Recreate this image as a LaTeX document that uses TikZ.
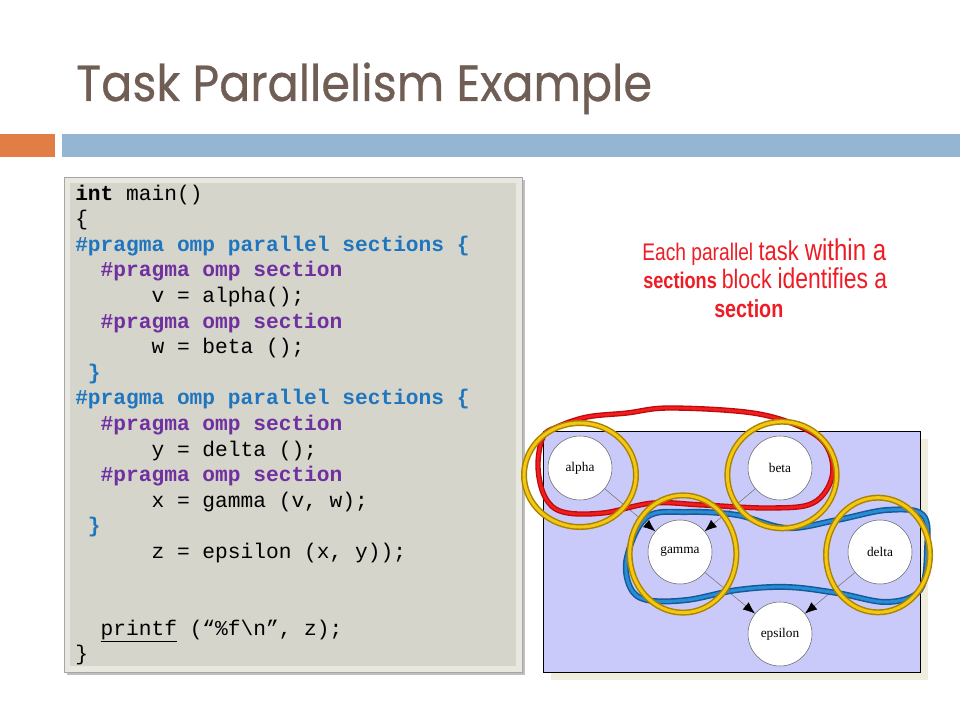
\documentclass[tikz,border=0pt]{standalone}
\usepackage{fontspec}
\setmainfont{Liberation Serif}
\setsansfont{Liberation Sans}
\setmonofont{Liberation Mono}
\newfontfamily\titlefont{Poppins}[FakeBold=0.6]
\usetikzlibrary{arrows.meta,positioning}
\definecolor{titlebrown}{RGB}{112,94,84}
\definecolor{barorange}{RGB}{224,126,70}
\definecolor{barblue}{RGB}{148,182,210}
\definecolor{codebg}{RGB}{213,213,203}
\definecolor{codeframe}{RGB}{232,232,225}
\definecolor{ompblue}{RGB}{31,118,190}
\definecolor{omppurple}{RGB}{112,48,160}
\definecolor{notered}{RGB}{238,28,36}
\definecolor{graphbg}{RGB}{202,202,250}
\definecolor{shadowbeige}{RGB}{240,236,222}
\definecolor{reddark}{RGB}{190,10,10}
\definecolor{redlight}{RGB}{240,30,30}
\definecolor{bluedark}{RGB}{20,90,150}
\definecolor{bluelight}{RGB}{40,140,215}
\definecolor{golddark}{RGB}{170,130,0}
\definecolor{goldlight}{RGB}{242,200,20}
\newcommand\parsec[1]{\textcolor{ompblue}{\textbf{#1}}}
\newcommand\onesec[1]{\textcolor{omppurple}{\textbf{#1}}}
\newcommand\narrow[1]{\scalebox{0.8}[1]{#1}}
\begin{document}
\begin{tikzpicture}[x=0.75pt,y=-0.75pt,node distance=150pt,
  task/.style={draw=black!60, fill=white, circle, minimum size=48pt, inner sep=0pt, font=\fontsize{10}{11}\selectfont},
  dep/.style={draw=black!55, -{Latex[length=9pt,width=7pt,color=black]}},
  redloop/.style={draw=reddark, line width=4pt, line join=round, postaction={draw=redlight, line width=2pt}},
  blueloop/.style={draw=bluedark, line width=4.5pt, line join=round, postaction={draw=bluelight, line width=2.3pt}},
  goldring/.style={draw=golddark, line width=4.5pt, postaction={draw=goldlight, line width=2.3pt}},
  note/.style={anchor=base west, inner sep=0pt, text=notered, font=\sffamily}]
  \useasboundingbox (0,0) rectangle (960,720);
  \fill[white] (0,0) rectangle (960,720);

  % title and bars
  \node[anchor=base west, inner sep=0pt, text=titlebrown, font=\titlefont\fontsize{38}{40}\selectfont] (title) at (76,101) {\scalebox{0.91}[1]{Task Parallelism Example}};
  \fill[barorange] (0,134) rectangle (55,157);
  \fill[barblue] (62,134) rectangle (960,157);

  % code box
  \fill[black!25] (67,180) rectangle (525,675);
  \fill[codeframe] (64,177) rectangle (522,672);
  \fill[codebg] (70,183) rectangle (516,666);
  \draw[black!35] (64,177) rectangle (522,672);
  \node[anchor=north west, inner sep=0pt, align=left, font=\fontsize{15.9}{19.2}\selectfont\ttfamily] (code) at (75,184.5) {%
    \textbf{int} main()\\
    \{\\
    \parsec{\#pragma omp parallel sections \{}\\
    ~~\onesec{\#pragma omp section}\\
    ~~~~~~v = alpha();\\
    ~~\onesec{\#pragma omp section}\\
    ~~~~~~w = beta ();\\
    ~\parsec{\}}\\
    \parsec{\#pragma omp parallel sections \{}\\
    ~~\onesec{\#pragma omp section}\\
    ~~~~~~y = delta ();\\
    ~~\onesec{\#pragma omp section}\\
    ~~~~~~x = gamma (v, w);\\
    ~\parsec{\}}\\
    ~~~~~~z = epsilon (x, y));\\
    \mbox{}\\
    \mbox{}\\
    ~~\underline{printf} (“\%f\textbackslash n”, z);\\
    \}};

  % note
  \node[note] (note1) at (642,261) {\narrow{\fontsize{18}{20}\selectfont Each parallel \fontsize{20.5}{22}\selectfont task \fontsize{22.5}{24}\selectfont within a}};
  \node[note] (note2) at (643,289) {\narrow{\fontsize{17}{20}\selectfont\bfseries sections \fontsize{20}{22}\selectfont\mdseries block \fontsize{21.5}{24}\selectfont identifies a}};
  \node[note] (note3) at (714,317) {\narrow{\fontsize{18.5}{20}\selectfont\bfseries section}};

  % task graph
  \fill[shadowbeige] (551,439) rectangle (928,680);
  \draw[fill=graphbg] (543,431) rectangle (920,672);
  \node[task] (alpha) at (580,468) {alpha};
  \node[task, right of=alpha] (beta) {beta};
  \node[task] (gamma) at (680,552) {gamma};
  \node[task, right of=gamma] (delta) {delta};
  \node[task] (epsilon) at (780,634) {epsilon};
  \draw[dep] (alpha) -- (gamma);
  \draw[dep] (beta) -- (gamma);
  \draw[dep] (gamma) -- (epsilon);
  \draw[dep] (delta) -- (epsilon);

  % hand drawn loops
  \draw[redloop] plot[smooth cycle, tension=0.6] coordinates {(543,437) (538,467) (545,497) (563,512) (603,513) (653,503) (703,505) (770,508) (813,503) (832,477) (827,447) (803,428) (753,413) (670,408) (627,413) (587,417) (557,427)};
  \draw[blueloop] plot[smooth cycle, tension=0.6] coordinates {(627,557) (647,517) (687,512) (737,515) (787,528) (837,520) (887,510) (923,515) (927,550) (920,590) (887,602) (837,593) (787,587) (737,590) (687,600) (647,600) (630,587)};
  \draw[goldring] (580,475) ellipse [x radius=42pt, y radius=39pt];
  \draw[goldring] (782,475) ellipse [x radius=41pt, y radius=40pt];
  \draw[goldring] (683,554) ellipse [x radius=40pt, y radius=44pt];
  \draw[goldring] (878,555) ellipse [x radius=39pt, y radius=43pt];
\end{tikzpicture}
\end{document}
